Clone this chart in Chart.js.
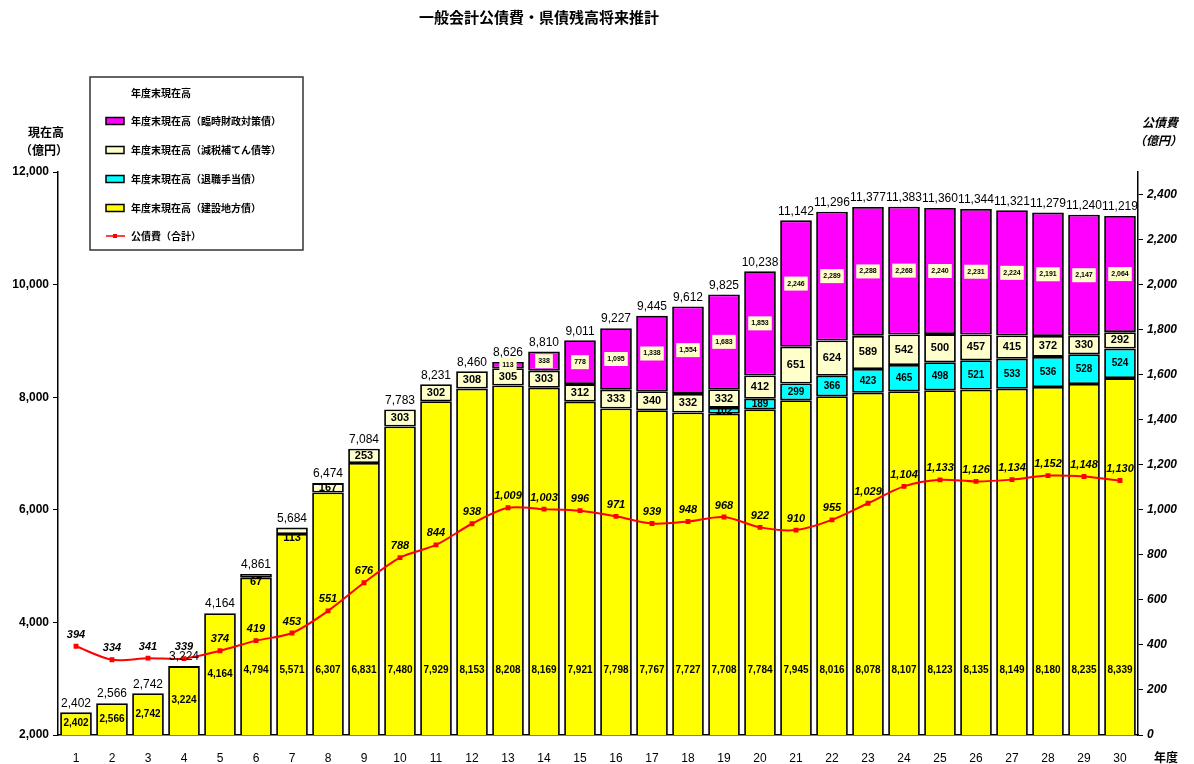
<!DOCTYPE html>
<html lang="ja">
<head>
<meta charset="utf-8">
<title>一般会計公債費・県債残高将来推計</title>
<script src="https://cdn.jsdelivr.net/npm/chart.js@4.4.1/dist/chart.umd.min.js"></script>
<style>
  html, body { margin: 0; padding: 0; background: #fff; }
  #wrap { position: relative; width: 1194px; height: 764px; }
</style>
</head>
<body>
<div id="wrap"><canvas id="debt-chart" width="1194" height="764"></canvas></div>
<script>
var years = ["1","2","3","4","5","6","7","8","9","10","11","12","13","14","15","16","17","18","19","20","21","22","23","24","25","26","27","28","29","30"];
// 年度末現在高（建設地方債）
var construction = [2402,2566,2742,3224,4164,4794,5571,6307,6831,7480,7929,8153,8208,8169,7921,7798,7767,7727,7708,7784,7945,8016,8078,8107,8123,8135,8149,8180,8235,8339];
// 年度末現在高（退職手当債）
var retirement = [0,0,0,0,0,0,0,0,0,0,0,0,0,0,0,0,0,0,102,189,299,366,423,465,498,521,533,536,528,524];
// 年度末現在高（減税補てん債等）
var taxReduction = [0,0,0,0,0,67,113,167,253,303,302,308,305,303,312,333,340,332,332,412,651,624,589,542,500,457,415,372,330,292];
// 年度末現在高（臨時財政対策債）
var temporary = [0,0,0,0,0,0,0,0,0,0,0,0,113,338,778,1095,1338,1554,1683,1853,2246,2289,2288,2268,2240,2231,2224,2191,2147,2064];
// 年度末現在高 合計
var totals = [2402,2566,2742,3224,4164,4861,5684,6474,7084,7783,8231,8460,8626,8810,9011,9227,9445,9612,9825,10238,11142,11296,11377,11383,11360,11344,11321,11279,11240,11219];
// 公債費（合計）
var debtService = [394,334,341,339,374,419,453,551,676,788,844,938,1009,1003,996,971,939,948,968,922,910,955,1029,1104,1133,1126,1134,1152,1148,1130];

var leftTicks = [2000,4000,6000,8000,10000,12000];
var rightTicks = [0,200,400,600,800,1000,1200,1400,1600,1800,2000,2200,2400];

var JP = '"Noto Sans CJK JP", "Noto Sans", sans-serif';
var NUM = '"Liberation Sans", Arial, sans-serif';

function fmt(v) { return v.toLocaleString("en-US"); }
function nz(arr) { return arr.map(function (v) { return v === 0 ? null : v; }); }

function segLabel(ctx, text, x, y, font, bg) {
  ctx.font = font;
  ctx.textAlign = "center";
  ctx.textBaseline = "middle";
  if (bg) {
    var w = ctx.measureText(text).width;
    ctx.fillStyle = bg;
    ctx.fillRect(x - w / 2 - 3, y - 7, w + 6, 14);
  }
  ctx.fillStyle = "#000";
  ctx.fillText(text, x, y);
}

var labelPlugin = {
  id: "labels",
  afterDatasetsDraw: function (chart) {
    var ctx = chart.ctx, x = chart.scales.x, y = chart.scales.y, y2 = chart.scales.y2;
    ctx.save();
    for (var i = 0; i < years.length; i++) {
      var cx = x.getPixelForValue(i);
      // total above bar
      ctx.font = "12px " + NUM;
      ctx.textAlign = "center";
      ctx.textBaseline = "bottom";
      ctx.fillStyle = "#000";
      ctx.fillText(fmt(totals[i]), cx, y.getPixelForValue(totals[i]) - 3);
      // construction
      var mid = Math.min((2000 + construction[i]) / 2, 3150);
      segLabel(ctx, fmt(construction[i]), cx, y.getPixelForValue(mid), "bold 10px " + NUM);
      var base = construction[i];
      if (retirement[i]) {
        segLabel(ctx, fmt(retirement[i]), cx, y.getPixelForValue(base + retirement[i] / 2), "bold 10px " + NUM);
        base += retirement[i];
      }
      if (taxReduction[i]) {
        var py = y.getPixelForValue(base + taxReduction[i] / 2);
        var hpx = y.getPixelForValue(base) - y.getPixelForValue(base + taxReduction[i]);
        if (hpx < 8) py = y.getPixelForValue(base) + 4;
        segLabel(ctx, fmt(taxReduction[i]), cx, py, "bold 11px " + NUM);
        base += taxReduction[i];
      }
      if (temporary[i]) {
        segLabel(ctx, fmt(temporary[i]), cx, y.getPixelForValue(base + temporary[i] / 2), "bold 7px " + NUM, "#ffffcc");
      }
      // debt service value
      ctx.font = "italic bold 11px " + NUM;
      ctx.textAlign = "center";
      ctx.textBaseline = "bottom";
      ctx.fillStyle = "#000";
      ctx.fillText(fmt(debtService[i]), cx, y2.getPixelForValue(debtService[i]) - 6);
    }
    ctx.restore();
  }
};

var decorPlugin = {
  id: "decor",
  afterDraw: function (chart) {
    var ctx = chart.ctx;
    ctx.save();
    ctx.fillStyle = "#000";
    ctx.textAlign = "center";
    ctx.textBaseline = "middle";
    ctx.font = "bold 15px " + JP;
    ctx.fillText("一般会計公債費・県債残高将来推計", 539, 17);
    ctx.font = "bold 12px " + JP;
    ctx.fillText("現在高", 46, 132);
    ctx.fillText("（億円）", 44, 150);
    ctx.font = "italic bold 12px " + JP;
    ctx.fillText("公債費", 1160, 122);
    ctx.fillText("（億円）", 1158, 140);
    ctx.font = "bold 12px " + JP;
    ctx.fillText("年度", 1166, 757);

    // legend box
    ctx.fillStyle = "#fff";
    ctx.fillRect(90, 77, 213, 173);
    ctx.strokeStyle = "#333";
    ctx.lineWidth = 1.5;
    ctx.strokeRect(90, 77, 213, 173);
    ctx.font = "bold 10px " + JP;
    ctx.textAlign = "left";
    ctx.fillStyle = "#000";
    ctx.fillText("年度末現在高", 131, 93);
    var items = [
      ["年度末現在高（臨時財政対策債）", "#ff00ff"],
      ["年度末現在高（減税補てん債等）", "#ffffcc"],
      ["年度末現在高（退職手当債）", "#00ffff"],
      ["年度末現在高（建設地方債）", "#ffff00"]
    ];
    items.forEach(function (it, k) {
      var ly = 121 + k * 29;
      ctx.fillStyle = it[1];
      ctx.fillRect(106, ly - 3.5, 18, 7);
      ctx.strokeStyle = "#000";
      ctx.lineWidth = 1.5;
      ctx.strokeRect(106, ly - 3.5, 18, 7);
      ctx.fillStyle = "#000";
      ctx.fillText(it[0], 131, ly);
    });
    ctx.strokeStyle = "#ff0000";
    ctx.lineWidth = 1.5;
    ctx.beginPath();
    ctx.moveTo(106, 236);
    ctx.lineTo(125, 236);
    ctx.stroke();
    ctx.fillStyle = "#ff0000";
    ctx.fillRect(113, 234, 4, 4);
    ctx.fillStyle = "#000";
    ctx.fillText("公債費（合計）", 131, 236);
    ctx.restore();
  }
};

function barSet(label, data, color) {
  return {
    type: "bar",
    label: label,
    data: nz(data),
    backgroundColor: color,
    borderColor: "#000",
    borderWidth: 1.8,
    borderSkipped: false,
    barPercentage: 0.88,
    categoryPercentage: 1,
    yAxisID: "y",
    order: 2
  };
}

var ctx = document.getElementById("debt-chart").getContext("2d");
var chart = new Chart(ctx, {
  data: {
    labels: years,
    datasets: [
      barSet("年度末現在高（建設地方債）", construction, "#ffff00"),
      barSet("年度末現在高（退職手当債）", retirement, "#00ffff"),
      barSet("年度末現在高（減税補てん債等）", taxReduction, "#ffffcc"),
      barSet("年度末現在高（臨時財政対策債）", temporary, "#ff00ff"),
      {
        type: "line",
        label: "公債費（合計）",
        data: debtService,
        borderColor: "#ff0000",
        backgroundColor: "#ff0000",
        borderWidth: 2,
        pointStyle: "rect",
        pointRadius: 2,
        tension: 0.3,
        yAxisID: "y2",
        order: 1
      }
    ]
  },
  options: {
    responsive: false,
    animation: false,
    devicePixelRatio: 1,
    layout: { padding: { top: 172, left: 0, right: 0, bottom: 0 } },
    plugins: { legend: { display: false }, tooltip: { enabled: false }, title: { display: false } },
    scales: {
      x: {
        stacked: true,
        offset: true,
        grid: { display: false },
        border: { color: "#000", width: 1.5 },
        ticks: { color: "#000", font: { family: NUM, size: 12 }, padding: 8, maxRotation: 0 },
        afterFit: function (s) { s.height = 29; }
      },
      y: {
        stacked: true,
        position: "left",
        min: 2000,
        max: 12000,
        afterBuildTicks: function (s) { s.ticks = leftTicks.map(function (v) { return { value: v }; }); },
        grid: { drawOnChartArea: false, color: "#000", tickLength: 5 },
        border: { color: "#000", width: 1.5 },
        ticks: { color: "#000", font: { family: NUM, size: 12, weight: "bold" }, padding: 4, callback: function (v) { return fmt(v); } },
        afterFit: function (s) { s.width = 58; }
      },
      y2: {
        position: "right",
        min: 0,
        max: 2500,
        afterBuildTicks: function (s) { s.ticks = rightTicks.map(function (v) { return { value: v }; }); },
        grid: { drawOnChartArea: false, color: "#000", tickLength: 5 },
        border: { color: "#000", width: 1.5 },
        ticks: { color: "#000", font: { family: NUM, size: 12, weight: "bold", style: "italic" }, padding: 4, callback: function (v) { return fmt(v); } },
        afterFit: function (s) { s.width = 56; }
      }
    }
  },
  plugins: [labelPlugin, decorPlugin]
});
</script>
</body>
</html>
